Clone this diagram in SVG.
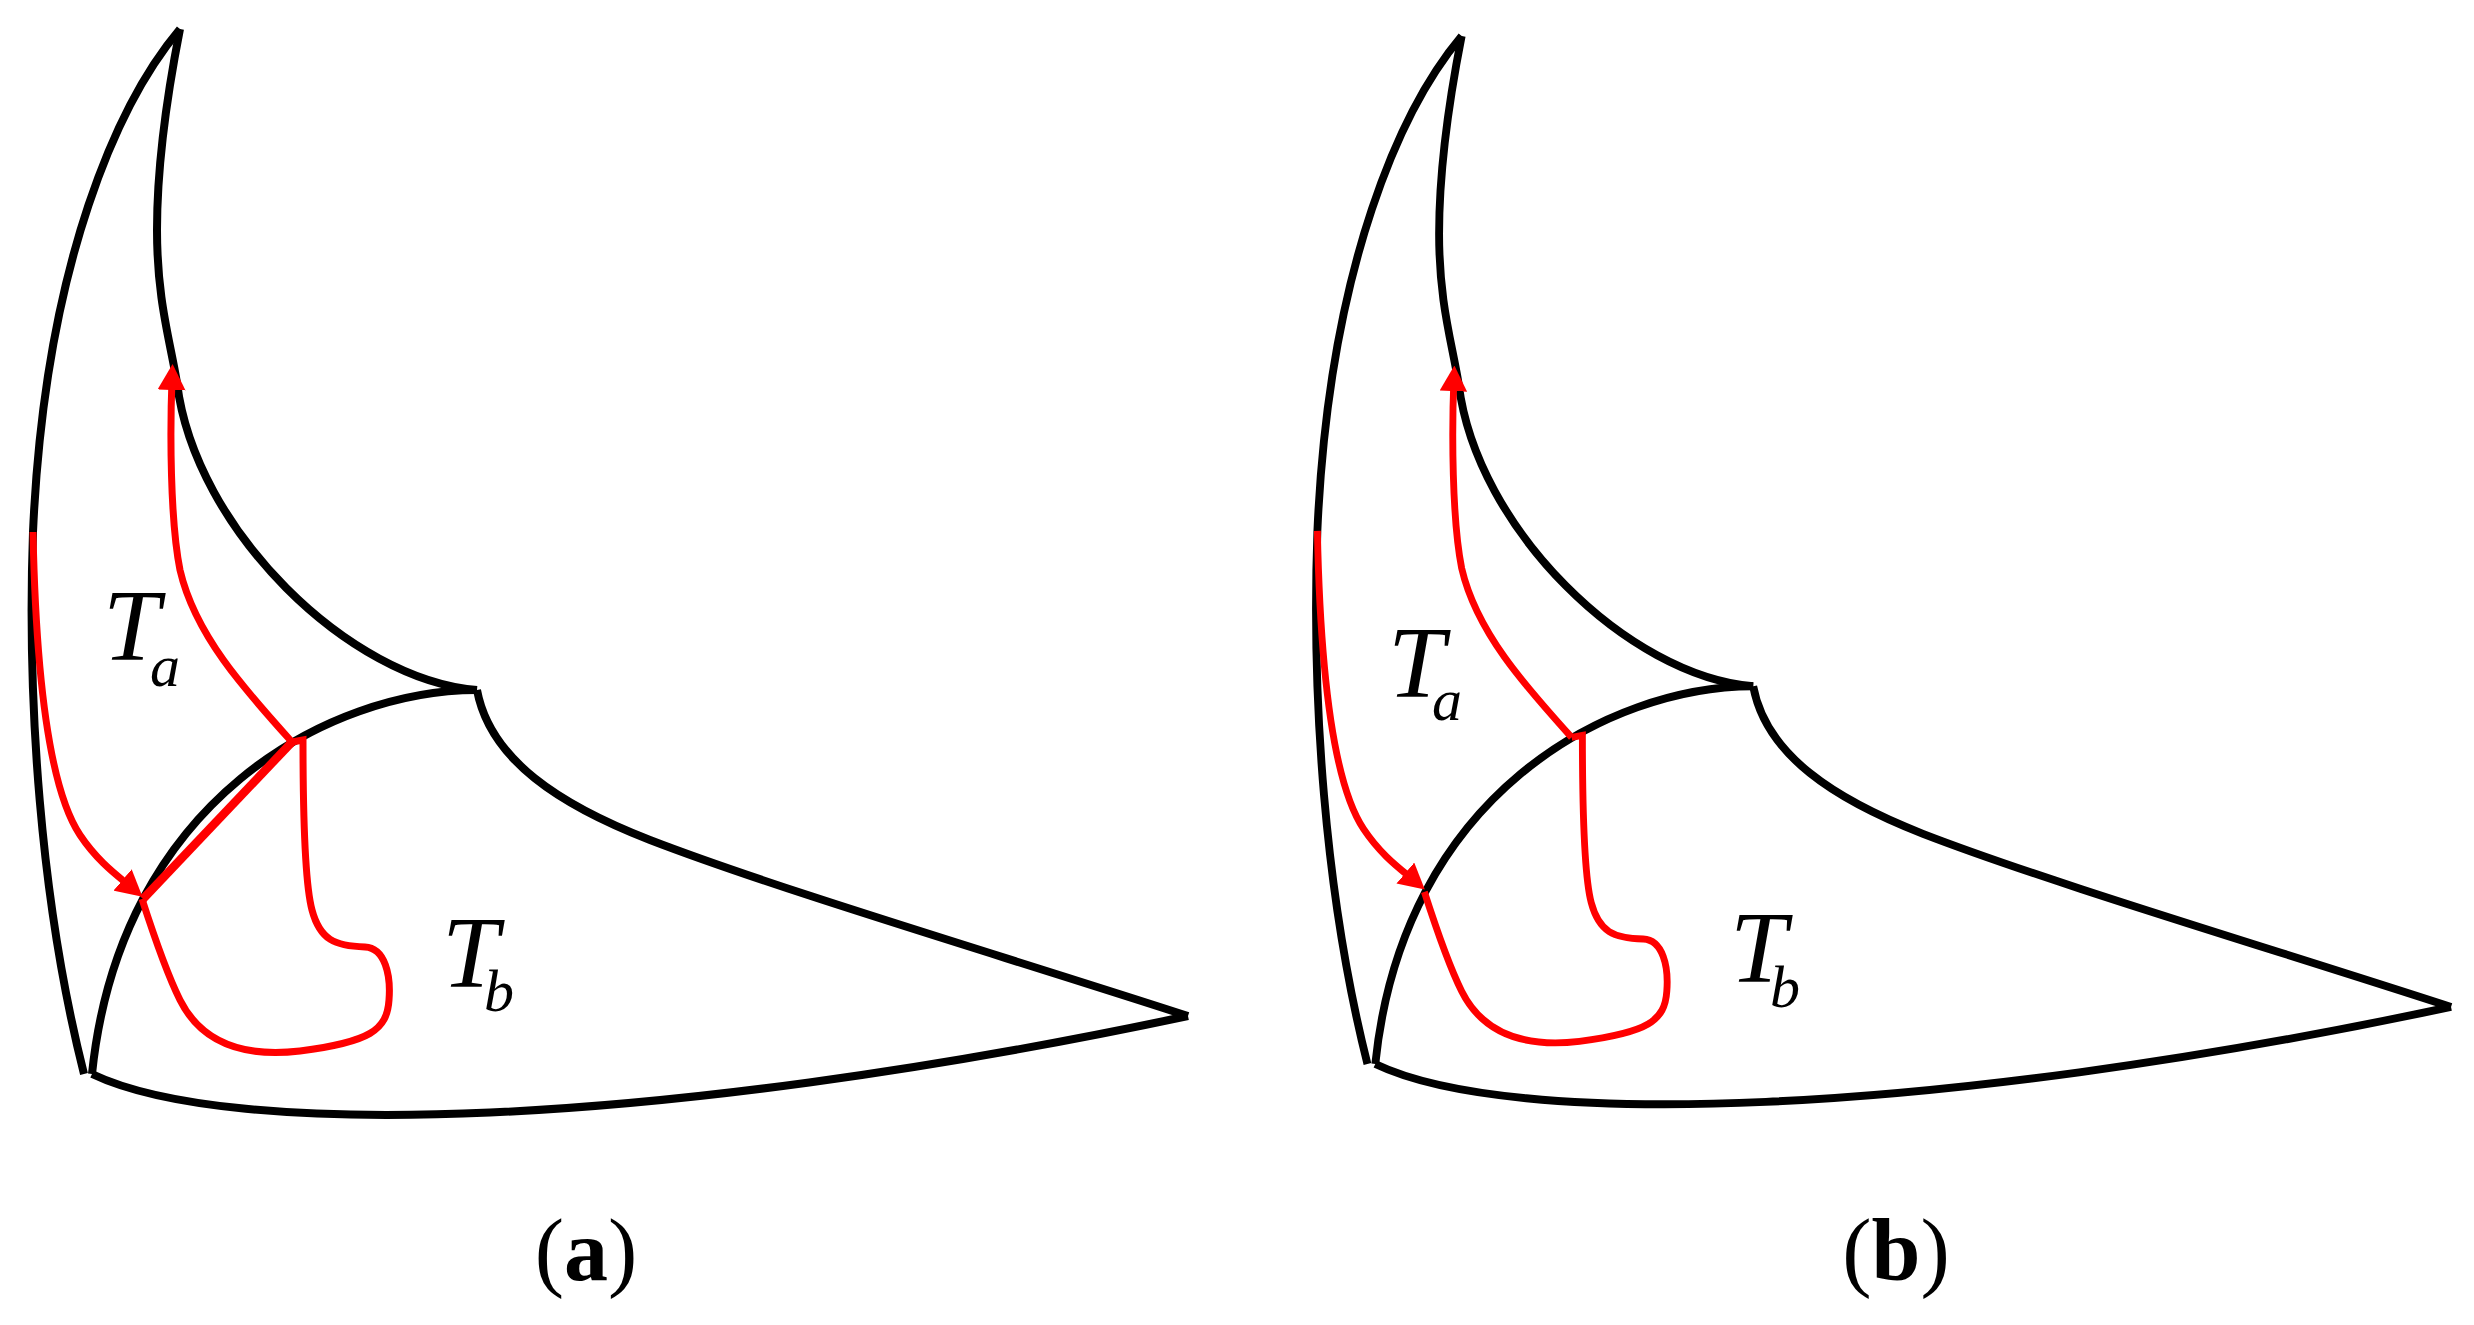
<svg xmlns="http://www.w3.org/2000/svg" xmlns:xlink="http://www.w3.org/1999/xlink" width="2474" height="1325" viewBox="0 0 2474 1325">
<style>
.blk{fill:none;stroke:#000;stroke-width:8;stroke-linejoin:miter;stroke-linecap:butt}
.red{fill:none;stroke:#ff0000;stroke-width:7;stroke-linejoin:miter;stroke-linecap:butt}
.lbl{font-family:"Liberation Serif","Times New Roman",serif;font-style:italic;fill:#000;font-size:102px}
.sub{font-size:60px}
.cap{font-family:"Liberation Serif","Times New Roman",serif;font-size:88px;fill:#000}
</style>
<defs>
<marker id="ah" viewBox="0 -14 26 28" markerWidth="26" markerHeight="28" refX="11" refY="0" markerUnits="userSpaceOnUse" orient="auto">
<path d="M0,-14 L26,0 L0,14 z" fill="#ff0000"/>
</marker>
<g id="outline" class="blk">
<path d="M180,29 C120,100 45,260 33,532 C27,700 40,900 84,1074"/>
<path d="M180,29 C168,90 157,160 157,230 C157,300 170,340 177,383 C195,530 350,680 477,690"/>
<path d="M477,690 C330,690 120,800 92,1074"/>
<path d="M477,690 C490,760 560,805 650,840 C780,890 1000,955 1188,1016"/>
<path d="M92,1074 C230,1140 650,1130 1188,1016"/>
</g>
<g id="redpaths" class="red">
<path d="M33,532 C36,680 50,790 80,835 C98,862 118,876 131,887" marker-end="url(#ah)"/>
<path d="M292,742 C245,690 195,635 180,570 C170,520 170,430 172,379" marker-end="url(#ah)"/>
<path d="M292,742 L303,740 C303,800 304,880 312,910 C320,940 335,946 365,947 C385,948 391,975 389,1000 C387,1030 370,1042 300,1051 C240,1058 200,1040 180,1000 C165,970 152,930 142,899"/>
</g>
</defs>
<rect width="2474" height="1325" fill="#fff"/>
<g id="panel-a">
<use xlink:href="#outline"/>
<g id="connectors-a">
<use xlink:href="#redpaths"/>
<path class="red" d="M292,742 L143,899" style="stroke-width:8.5"/>
</g>
<text class="lbl" x="103" y="660">T<tspan class="sub" x="150" y="686">a</tspan></text>
<text class="lbl" x="442" y="987">T<tspan class="sub" x="484" y="1011">b</tspan></text>
<text class="cap" x="586" y="1280" text-anchor="middle">(<tspan font-weight="bold">a</tspan>)</text>
</g>
<g id="panel-b">
<use xlink:href="#outline" transform="translate(1285,7.5) scale(0.9815,0.9837)"/>
<g id="connectors-b">
<use xlink:href="#redpaths" transform="translate(1285,7.5) scale(0.9815,0.9837)"/>
</g>
<text class="lbl" x="1388" y="697">T<tspan class="sub" x="1432" y="720">a</tspan></text>
<text class="lbl" x="1730" y="982">T<tspan class="sub" x="1770" y="1007">b</tspan></text>
<text class="cap" x="1896" y="1280" text-anchor="middle">(<tspan font-weight="bold">b</tspan>)</text>
</g>
</svg>
